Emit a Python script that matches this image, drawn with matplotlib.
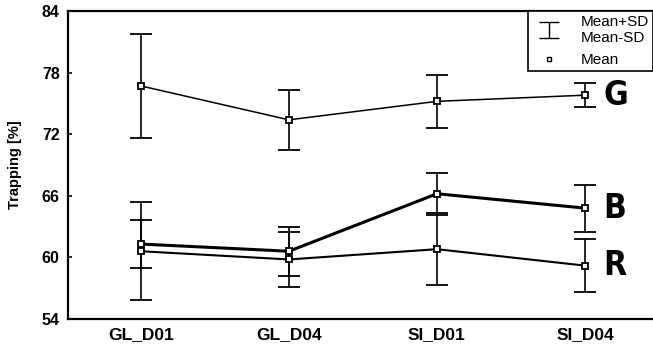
import matplotlib
matplotlib.use("Agg")
import matplotlib.pyplot as plt
from matplotlib.lines import Line2D

categories = ["GL_D01", "GL_D04", "SI_D01", "SI_D04"]
g_mean = [76.7, 73.4, 75.2, 75.8]
g_sd = [5.1, 2.95, 2.6, 1.15]
b_mean = [61.3, 60.6, 66.2, 64.8]
b_sd = [2.35, 2.4, 2.05, 2.3]
r_mean = [60.6, 59.8, 60.8, 59.2]
r_sd = [4.75, 2.7, 3.5, 2.6]
yticks = [54, 60, 66, 72, 78, 84]

plt.rcParams['font.family'] = ['Liberation Sans', 'DejaVu Sans']

fig = plt.figure(figsize=(6.53, 3.46), dpi=100)
ax = fig.add_axes([68/653, 27/346, (653-68)/653, (319-11)/346])

x = list(range(1, len(categories) + 1))
series = [
    (g_mean, g_sd, 1.1, "G"),
    (b_mean, b_sd, 2.2, "B"),
    (r_mean, r_sd, 1.5, "R"),
]
for mean, sd, lw, lab in series:
    ax.errorbar(x, mean, yerr=sd, color="black", lw=lw, elinewidth=1.2,
                capsize=8, capthick=1.2, marker="s", ms=4, mfc="white",
                mec="black", mew=1.3)
    ax.text(x[-1] + 0.125, mean[-1], lab, fontsize=24, fontweight="bold",
            family='DejaVu Sans', stretch='condensed',
            va="center", ha="left")

ax.set_xlim(0.507, 4.46)
ax.set_ylim(54, 84)
ax.set_yticks(yticks)
ax.set_yticklabels([str(t) for t in yticks], fontweight="bold", fontsize=11.5)
ax.set_xticks(x)
ax.set_xticklabels(categories, fontweight="bold", fontsize=12.5)
ax.tick_params(axis="x", length=0, pad=6)
ax.tick_params(axis="y", direction="in", length=3, width=1.2, pad=6)
ax.set_ylabel("Trapping [%]", fontweight="bold", fontsize=10.5, labelpad=14)
ax.spines["right"].set_visible(False)
for s in ["left", "bottom", "top"]:
    ax.spines[s].set_linewidth(1.6)

eb = ax.errorbar([100], [100], yerr=[1], color="black", capsize=7, lw=0,
                 elinewidth=1, capthick=1)
mk = Line2D([], [], ls="none", marker="s", ms=3.5, mfc="white", mec="black", mew=1)
leg = ax.legend([eb, mk], ["Mean+SD\nMean-SD", "Mean"], loc="upper right",
                bbox_to_anchor=(1.0, 1.0), fancybox=False, edgecolor="black",
                framealpha=1, fontsize=11, borderaxespad=0, handlelength=2.2,
                handletextpad=1.0, labelspacing=0.55, borderpad=0.25)
leg.get_frame().set_linewidth(1.2)

fig.savefig("out.png", dpi=100)
